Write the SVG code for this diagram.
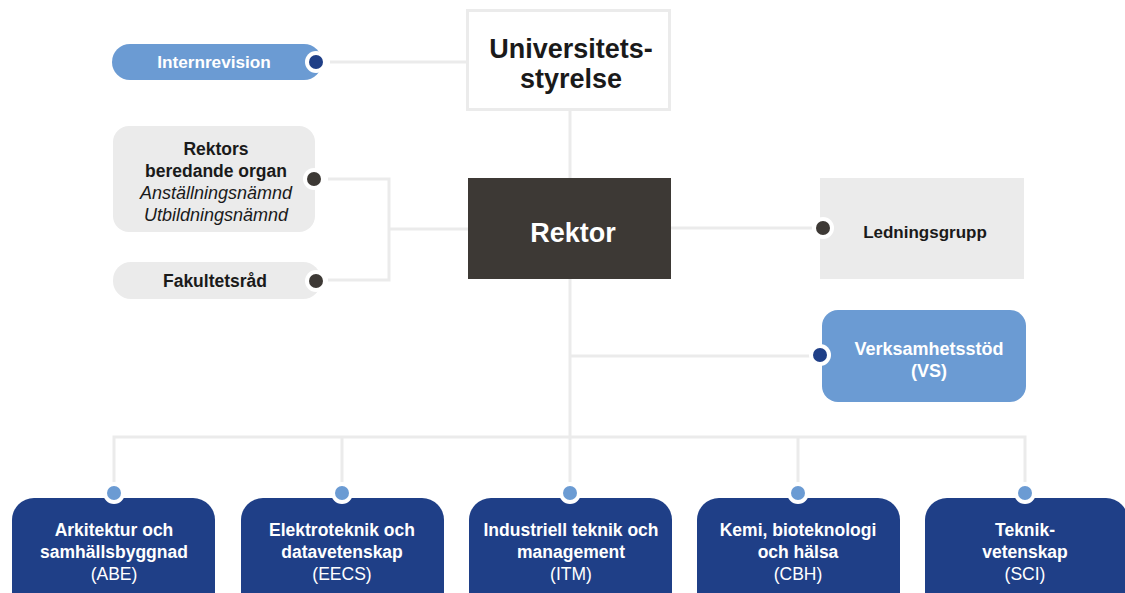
<svg xmlns="http://www.w3.org/2000/svg" width="1125" height="593" viewBox="0 0 1125 593">
<style>
text{font-family:"Liberation Sans",Arial,sans-serif;text-anchor:middle}
.b{font-weight:bold}
.conn{fill:none;stroke:#ebebeb;stroke-width:3}
.ring{fill:#fff}
.dk{fill:#3d3935}
.db{fill:#1f3f87}
.lb{fill:#6b9bd3}
.unit{fill:#1f3f87}
.ut{fill:#fff;font-size:17.5px}
</style>
<rect width="1125" height="593" fill="#fff"/>
<g id="connectors">
<path class="conn" d="M330 62H467"/>
<path class="conn" d="M570 110V178"/>
<path class="conn" d="M328 179H389V280H328M389 229H468"/>
<path class="conn" d="M670 228H812"/>
<path class="conn" d="M570 278V437"/>
<path class="conn" d="M570 356H812"/>
<path class="conn" d="M114 487V437H1025V487M342 437V487M570 437V487M798 437V487"/>
</g>
<g id="universitetsstyrelse">
<rect x="467.5" y="10.5" width="202" height="99" fill="#fff" stroke="#ebebeb" stroke-width="3"/>
<text x="571" y="58" class="b" font-size="27" fill="#1a1a1a">Universitets-</text>
<text x="571" y="88" class="b" font-size="27" fill="#1a1a1a">styrelse</text>
</g>
<g id="internrevision">
<rect x="112" y="44" width="210" height="36" rx="18" class="lb"/>
<circle cx="316" cy="62" r="11" class="ring"/>
<circle cx="316" cy="62" r="7" class="db"/>
<text x="214" y="68" class="b" font-size="17.2" fill="#fff">Internrevision</text>
</g>
<g id="rektors-beredande-organ">
<rect x="113" y="126" width="202" height="106" rx="16" fill="#ebebeb"/>
<circle cx="314" cy="179" r="11" class="ring"/>
<circle cx="314" cy="179" r="7" class="dk"/>
<text x="216" y="155" class="b" font-size="17.5" fill="#1a1a1a">Rektors</text>
<text x="216" y="177" class="b" font-size="17.5" fill="#1a1a1a">beredande organ</text>
<text x="216" y="199" font-style="italic" font-size="18" fill="#1a1a1a">Anställningsnämnd</text>
<text x="216" y="221" font-style="italic" font-size="18" fill="#1a1a1a">Utbildningsnämnd</text>
</g>
<g id="fakultetsrad">
<rect x="113" y="262" width="208" height="37" rx="18" fill="#ebebeb"/>
<circle cx="316" cy="281" r="11" class="ring"/>
<circle cx="316" cy="281" r="7" class="dk"/>
<text x="215" y="287" class="b" font-size="17.5" fill="#1a1a1a">Fakultetsråd</text>
</g>
<g id="rektor">
<rect x="468" y="178" width="203" height="101" fill="#3d3935"/>
<text x="573" y="242" class="b" font-size="27" fill="#fff">Rektor</text>
</g>
<g id="ledningsgrupp">
<rect x="820" y="178" width="204" height="101" fill="#ebebeb"/>
<circle cx="823" cy="228" r="11" class="ring"/>
<circle cx="823" cy="228" r="7" class="dk"/>
<text x="925" y="238" class="b" font-size="17" fill="#1a1a1a">Ledningsgrupp</text>
</g>
<g id="verksamhetsstod">
<rect x="822" y="310" width="204" height="92" rx="16" class="lb"/>
<circle cx="820" cy="355" r="11" class="ring"/>
<circle cx="820" cy="355" r="7" class="db"/>
<text x="929" y="355" class="b" font-size="18" fill="#fff">Verksamhetsstöd</text>
<text x="929" y="377" class="b" font-size="18" fill="#fff">(VS)</text>
</g>
<g id="abe">
<rect x="12" y="498" width="203" height="120" rx="22" class="unit"/>
<circle cx="114" cy="493" r="11" class="ring"/>
<circle cx="114" cy="493" r="7" class="lb"/>
<text x="114" y="536" class="ut b">Arkitektur och</text>
<text x="114" y="558" class="ut b">samhällsbyggnad</text>
<text x="114" y="580" class="ut">(ABE)</text>
</g>
<g id="eecs">
<rect x="241" y="498" width="203" height="120" rx="22" class="unit"/>
<circle cx="342" cy="493" r="11" class="ring"/>
<circle cx="342" cy="493" r="7" class="lb"/>
<text x="342" y="536" class="ut b">Elektroteknik och</text>
<text x="342" y="558" class="ut b">datavetenskap</text>
<text x="342" y="580" class="ut">(EECS)</text>
</g>
<g id="itm">
<rect x="469" y="498" width="203" height="120" rx="22" class="unit"/>
<circle cx="570" cy="493" r="11" class="ring"/>
<circle cx="570" cy="493" r="7" class="lb"/>
<text x="571" y="536" class="ut b">Industriell teknik och</text>
<text x="571" y="558" class="ut b">management</text>
<text x="571" y="580" class="ut">(ITM)</text>
</g>
<g id="cbh">
<rect x="697" y="498" width="203" height="120" rx="22" class="unit"/>
<circle cx="798" cy="493" r="11" class="ring"/>
<circle cx="798" cy="493" r="7" class="lb"/>
<text x="798" y="536" class="ut b">Kemi, bioteknologi</text>
<text x="798" y="558" class="ut b">och hälsa</text>
<text x="798" y="580" class="ut">(CBH)</text>
</g>
<g id="sci">
<rect x="925" y="498" width="203" height="120" rx="22" class="unit"/>
<circle cx="1025" cy="493" r="11" class="ring"/>
<circle cx="1025" cy="493" r="7" class="lb"/>
<text x="1025" y="536" class="ut b">Teknik-</text>
<text x="1025" y="558" class="ut b">vetenskap</text>
<text x="1025" y="580" class="ut">(SCI)</text>
</g>
</svg>
